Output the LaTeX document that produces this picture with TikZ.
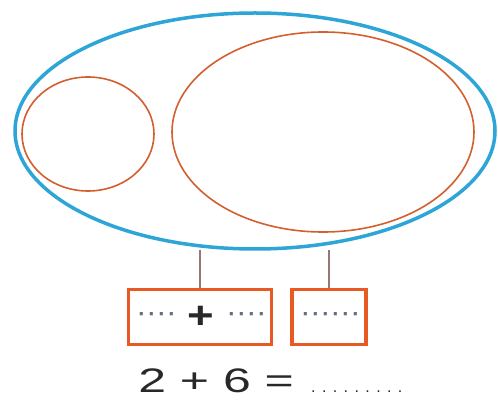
\documentclass[tikz,border=0pt]{standalone}
\usepackage{fontspec}
\usepackage{graphicx}
\setmainfont{Liberation Sans}
\newfontfamily\spacedA[LetterSpace=40]{Liberation Sans}
\newfontfamily\spacedB[LetterSpace=12]{Liberation Sans}
\usetikzlibrary{shapes.geometric}
\definecolor{setblue}{RGB}{45,165,215}
\definecolor{subor}{RGB}{210,95,45}
\definecolor{boxor}{RGB}{232,90,35}
\definecolor{linegray}{RGB}{150,120,110}
\definecolor{dotgray}{RGB}{100,110,130}
\definecolor{txt}{RGB}{40,40,40}
\begin{document}
\begin{tikzpicture}[x=1pt,y=-1pt,
  bigset/.style={ellipse,draw=setblue,line width=3.5pt,inner sep=0pt},
  subset/.style={ellipse,draw=subor,line width=1.6pt,inner sep=0pt},
  ansbox/.style={draw=boxor,line width=3.5pt,inner sep=0pt},
  boxdots/.style={inner sep=0pt,text=dotgray,font=\spacedB\bfseries\fontsize{22}{22}\selectfont},
  link/.style={draw=linegray,line width=1.2pt}]
\useasboundingbox (0,0) rectangle (498,403);
\node[bigset,minimum width=480,minimum height=236] (all) at (255,131) {};
\node[subset,minimum width=132,minimum height=114] (small) at (88,134) {};
\node[subset,minimum width=302,minimum height=200] (large) at (323,132) {};
\node[ansbox,minimum width=143,minimum height=55] (sum) at (200,317) {};
\node[ansbox,minimum width=74,minimum height=55] (res) at (329,317) {};
\node[boxdots] (d1) at (157,317) {····};
\node[inner sep=0pt,text=txt,font=\bfseries\fontsize{38}{38}\selectfont,xscale=1.2] (plus) at (201,317) {+};
\node[boxdots] (d2) at (247,317) {····};
\node[boxdots] (d3) at (331,317) {······};
\coordinate (a1) at (200,250);
\coordinate (a2) at (329,250);
\draw[link] (a1) -- (a1 |- sum.north);
\draw[link] (a2) -- (a2 |- res.north);
\node[anchor=base west,inner sep=0pt,text=txt,font=\fontsize{34}{34}\selectfont,xscale=1.47] (eq) at (138,392) {2 + 6 =};
\node[anchor=base west,inner sep=0pt,text=txt,font=\spacedA\fontsize{16}{16}\selectfont] (blank) at (311,392) {.........};
\end{tikzpicture}
\end{document}
